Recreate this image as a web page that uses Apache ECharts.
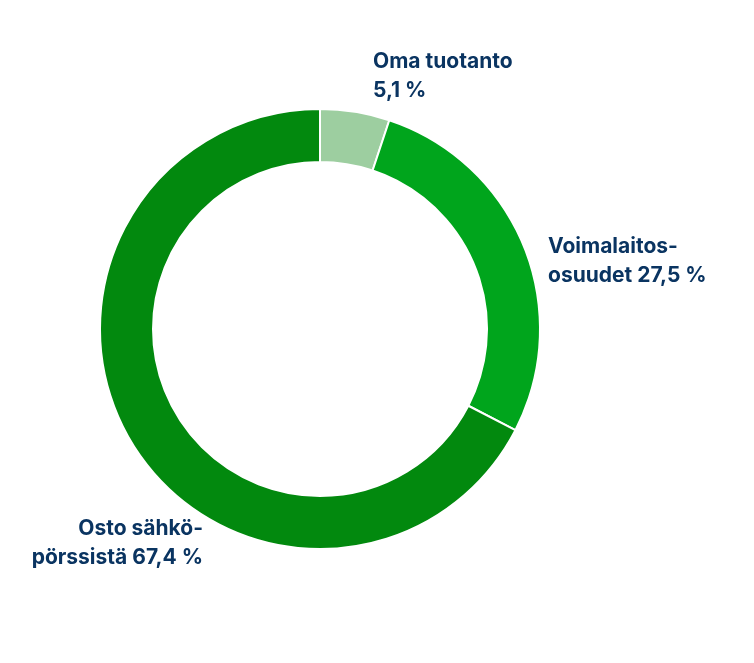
<!DOCTYPE html>
<html><head><meta charset="utf-8">
<script src="https://cdn.jsdelivr.net/npm/echarts@6/dist/echarts.min.js"></script>
<style>html,body{margin:0;padding:0;background:#fff}#c{width:754px;height:663px}</style>
</head><body><div id="c"></div>
<script>
const categories = ['Oma tuotanto', 'Voimalaitos-\nosuudet', 'Osto sähkö-\npörssistä'];
const values = [5.1, 27.5, 67.4];
const colors = ['#9dcea0', '#00a51c', '#02890e'];
const labelFormats = ['Oma tuotanto\n5,1 %', 'Voimalaitos-\nosuudet 27,5 %', 'Osto sähkö-\npörssistä 67,4 %'];
const labelPos = [
  {x: 373, y: 47, align: 'left'},
  {x: 548, y: 232, align: 'left'},
  {x: 203, y: 514, align: 'right'}
];
const chart = echarts.init(document.getElementById('c'));
chart.setOption({
  animation: false,
  series: [{
    type: 'pie',
    center: [320, 329],
    radius: [167, 220],
    startAngle: 90,
    clockwise: true,
    itemStyle: {borderColor: '#fff', borderWidth: 2},
    labelLine: {show: false},
    label: {
      show: true, position: 'outside', color: '#0a3461', overflow: 'none',
      fontFamily: 'Inter', fontWeight: 'bold', fontSize: 21, lineHeight: 29,
      formatter: p => labelFormats[p.dataIndex]
    },
    labelLayout: p => ({
      x: labelPos[p.dataIndex].x, y: labelPos[p.dataIndex].y,
      align: labelPos[p.dataIndex].align, verticalAlign: 'top'
    }),
    data: categories.map((n, i) => ({name: n, value: values[i], itemStyle: {color: colors[i]}}))
  }]
});
</script></body></html>
